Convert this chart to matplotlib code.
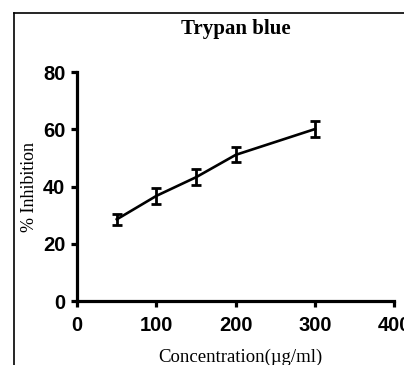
import matplotlib
matplotlib.use("Agg")
import matplotlib.pyplot as plt
from matplotlib.lines import Line2D

# dados
concentracao = [50, 100, 150, 200, 300]
inibicao = [28.6, 36.8, 43.3, 51.1, 60.1]
erro = [1.9, 2.7, 2.7, 2.6, 2.8]

x_ticks = [0, 100, 200, 300, 400]
y_ticks = [0, 20, 40, 60, 80]

fonte_ticks = ['Liberation Sans', 'DejaVu Sans']
fonte_serif = ['Liberation Serif', 'DejaVu Serif']

fig = plt.figure(figsize=(4.04, 3.65), dpi=100)
ax = fig.add_axes([0.191, 0.1745, 0.785, 0.6282])

ax.errorbar(concentracao, inibicao, yerr=erro, color='black', linewidth=1.9,
            elinewidth=2.0, capsize=3.6, capthick=2.0, clip_on=False)

ax.set_xlim(0, 400)
ax.set_ylim(0, 80)
ax.set_xticks(x_ticks)
ax.set_yticks(y_ticks)

for s in ['top', 'right']:
    ax.spines[s].set_visible(False)
for s in ['left', 'bottom']:
    ax.spines[s].set_linewidth(2.3)

ax.tick_params(width=2.3, length=4.5)
ax.tick_params(axis='x', pad=6)
ax.tick_params(axis='y', pad=4)
for lbl in ax.get_xticklabels() + ax.get_yticklabels():
    lbl.set_family(fonte_ticks)
    lbl.set_fontweight('bold')
    lbl.set_fontsize(14.5)

fig.text(236 / 404, 1 - 29 / 365, "Trypan blue", family=fonte_serif, fontweight='bold',
         fontsize=15, ha='center', va='center')
ax.set_ylabel("% Inhibition", family=fonte_serif, fontsize=13, va='center')
ax.yaxis.set_label_coords(-0.149, 0.5)
ax.set_xlabel("Concentration(µg/ml)", family=fonte_serif, fontsize=13.5, va='center')
ax.xaxis.set_label_coords(0.516, -0.245)

# moldura da imagem original
fig.add_artist(Line2D([13.5 / 404, 1.0], [1 - 12.5 / 365, 1 - 12.5 / 365],
                      transform=fig.transFigure, color='black', linewidth=1.2))
fig.add_artist(Line2D([13.5 / 404, 13.5 / 404], [0, 1 - 12.5 / 365],
                      transform=fig.transFigure, color='black', linewidth=1.2))

fig.savefig("out.png", dpi=100)
